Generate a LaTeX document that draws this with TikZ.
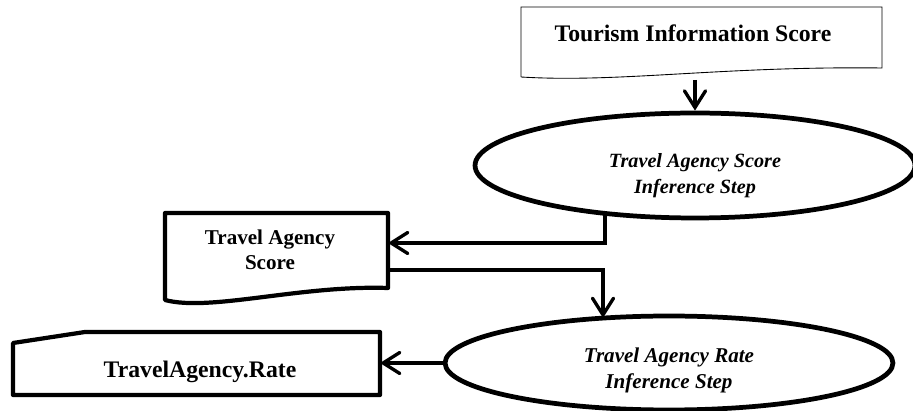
\documentclass[tikz,border=0pt]{standalone}
\usepackage{fontspec}
\setmainfont{Liberation Serif}
\usetikzlibrary{shapes.geometric,arrows.meta}
\tikzset{stepoval/.style={ellipse,draw,line width=2.7pt,align=center,inner sep=0pt,font=\fontsize{11.5}{14.7}\selectfont\bfseries\itshape},
flow/.style={line width=1.9pt,-{Straight Barb[length=9.5pt,width=12pt,line cap=round]}},
docline/.style={line width=2.4pt,line join=round}}

\begin{document}
\begin{tikzpicture}[x=0.02cm,y=-0.02cm]
                  \clip (0,0) rectangle (913,411);
                  \tikzstyle{every node}=[font=\fontsize{13.5}{16}\selectfont\bfseries]
                  % input document
                  \draw[line width=0.5pt] (521,77) -- (521,7) -- (882,7) -- (882,68) .. controls (720,66) and (620,83) .. (521,77);
                  \node (tis) at (693,33) {Tourism Information Score};
                  % inference steps
                  \node[stepoval,minimum width=8.8cm,minimum height=2.1cm] (ell1) at (695,165.5) {\rule{0pt}{20pt}Travel Agency Score\\Inference Step};
                  \node[stepoval,minimum width=8.96cm,minimum height=1.88cm,font=\fontsize{12}{14.7}\selectfont\bfseries\itshape] (ell2) at (669,363) {\rule{0pt}{17pt}Travel Agency Rate\\Inference Step};
                  % intermediate score
                  \draw[docline] (165,213) -- (388,213) -- (388,288) .. controls (300,285) and (210,312) .. (165,300) -- cycle;
                  \node[align=center,font=\fontsize{12}{14}\selectfont\bfseries] (tas) at (270,250) {Travel Agency\\Score};
                  % output
                  \draw[docline] (13,343) -- (85,332) -- (380,332) -- (380,395) -- (13,395) -- cycle;
                  \node (rate) at (200,372) {TravelAgency.Rate};
                  \coordinate (tisout) at (695,80);
                  \coordinate (scoreout) at (605,213);
                  \coordinate (scorein) at (388,243);
                  \coordinate (scorebox) at (388,270);
                  \coordinate (ratein) at (603,318);
                  \coordinate (ratebox) at (380,363);
                  \draw[flow] (tisout) -- (ell1.north);
                  \draw[flow] (scoreout) |- (scorein);
                  \draw[flow] (scorebox) -| (ratein);
                  \draw[flow] (ell2.west) -- (ratebox);
              \end{tikzpicture}
\end{document}
